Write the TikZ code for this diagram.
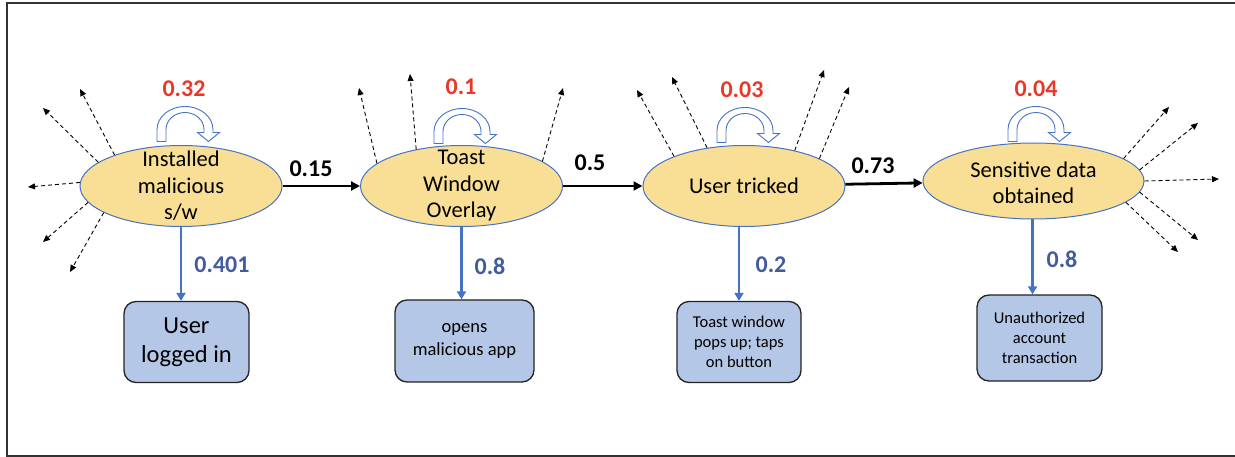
\documentclass[tikz,border=0pt]{standalone}
\usepackage{fontspec}
\setmainfont{Carlito}
\usetikzlibrary{arrows.meta,shapes.geometric}
\definecolor{ellfill}{RGB}{249,223,150}
\definecolor{ellline}{RGB}{68,114,196}
\definecolor{boxfill}{RGB}{180,199,231}
\definecolor{boxline}{RGB}{35,35,35}
\definecolor{redlbl}{RGB}{232,57,40}
\definecolor{bluelbl}{RGB}{66,92,158}
\definecolor{framecol}{RGB}{50,50,50}
\begin{document}
\begin{tikzpicture}[x=1pt,y=-1pt,
  state/.style={ellipse, draw=ellline, line width=1pt, fill=ellfill, inner sep=0pt},
  statetext/.style={align=center, inner sep=0pt, font=\fontsize{22.5}{26.5}\selectfont},
  outbox/.style={draw=boxline, line width=1.3pt, fill=boxfill, rounded corners=12pt, align=center, inner sep=0pt},
  flow/.style={line width=2.8pt, -{Triangle[length=9pt,width=9pt]}},
  leak/.style={line width=0.9pt, dash pattern=on 4pt off 3pt, -{Triangle[length=7pt,width=6pt]}},
  outarr/.style={draw=ellline, line width=2.5pt, -{Triangle[length=8pt,width=9pt]}},
  rednum/.style={text=redlbl, font=\fontsize{24}{28}\selectfont\bfseries, inner sep=0pt},
  bluenum/.style={text=bluelbl, font=\fontsize{24}{28}\selectfont\bfseries, inner sep=0pt},
  blacknum/.style={text=black, font=\fontsize{24}{28}\selectfont\bfseries, inner sep=0pt},
  selfloop/.pic={
    \draw[draw=ellline, fill=white, line width=0.9pt, line join=miter]
      (-26,0) -- (-26,-12) arc[start angle=180, end angle=0, x radius=28pt, y radius=23pt]
      -- (30,-9) -- (36.5,-9) -- (25.5,0) -- (14.5,-9) -- (21,-9) -- (21,-12)
      arc[start angle=0, end angle=180, x radius=19pt, y radius=17pt]
      -- (-17,0) -- cycle;
  }]
\useasboundingbox (0,0) rectangle (1235,457);
% frame
\draw[framecol, line width=1.5pt] (1235,3) -- (7,3) -- (7,456) -- (1235,456);

% states
\node[state, minimum width=202pt, minimum height=81pt] (e1) at (181,186) {};
\node[statetext] (e1t) at (e1.center) {Installed\\malicious\\s/w};
\node[state, minimum width=202pt, minimum height=81pt] (e2) at (461.5,186) {};
\node[statetext] (e2t) at (e2.center) {Toast\\Window\\Overlay};
\node[state, minimum width=202pt, minimum height=81pt] (e3) at (744,186) {};
\node[statetext] (e3t) at (e3.center) {User tricked};
\node[state, minimum width=221pt, minimum height=76pt] (e4) at (1033.5,181) {};
\node[statetext] (e4t) at ([yshift=-2pt]e4.center) {Sensitive data\\obtained};

% outcome boxes
\node[outbox, minimum width=125pt, minimum height=81pt, font=\fontsize{24.5}{29}\selectfont] (b1) at (186.5,342) {User\\logged in};
\node[outbox, minimum width=139pt, minimum height=82pt, font=\fontsize{18.5}{23}\selectfont] (b2) at (464.5,341) {opens\\malicious app};
\node[outbox, minimum width=124pt, minimum height=81pt, font=\fontsize{16.5}{20}\selectfont] (b3) at (739,342) {Toast window\\pops up; taps\\on button};
\node[outbox, minimum width=125pt, minimum height=86pt, font=\fontsize{16.5}{20}\selectfont] (b4) at (1039.5,338) {Unauthorized\\account\\transaction};

% self loops
\pic at ([shift={(2,-3.5)}]e1.north) {selfloop};
\pic at ([shift={(-1.5,-1.5)}]e2.north) {selfloop};
\pic at ([shift={(-1,-2.5)}]e3.north) {selfloop};
\pic at ([shift={(0.5,-1)}]e4.north) {selfloop};

% loop probabilities
\node[rednum] (r1) at (184,89) {0.32};
\node[rednum] (r2) at (461,87) {0.1};
\node[rednum] (r3) at (742,90) {0.03};
\node[rednum] (r4) at (1036,89) {0.04};

% main flow
\draw[flow] (e1) -- (e2);
\draw[flow] (e2) -- (e3);
\draw[flow] (e3) -- (e4);
\node[blacknum] (k1) at (311,169) {0.15};
\node[blacknum] (k2) at (590,163) {0.5};
\node[blacknum] (k3) at (873,166) {0.73};

% outcome arrows
\draw[outarr] (e1.south) -- (e1.south |- b1.north);
\draw[outarr] (e2.south) -- (e2.south |- b2.north);
\draw[outarr] ([xshift=-5pt]e3.south) -- ([xshift=-5pt]e3.south |- b3.north);
\draw[outarr] ([xshift=-1pt]e4.south) -- ([xshift=-1pt]e4.south |- b4.north);
\node[bluenum] (u1) at (222,265) {0.401};
\node[bluenum] (u2) at (490,266) {0.8};
\node[bluenum] (u3) at (771,265) {0.2};
\node[bluenum] (u4) at (1062,259) {0.8};

% leak arrows
\foreach \n/\a/\x/\y [count=\i] in {
  e1/155.5/80/89, e1/164.7/43/108, e1/178/28/187, e1/190.4/43/242, e1/199/70/272,
  e2/165/359/88, e2/141.6/410/74, e2/17.8/563/88,
  e3/157.8/637/90, e3/134.3/672/77, e3/35.2/824/70, e3/20.9/849/87,
  e4/14.8/1169/107, e4/6.9/1198/123, e4/-0.5/1219/179, e4/-6.5/1198/240, e4/-13.7/1178/252}{
  \coordinate (tip\i) at (\x,\y);
  \draw[leak] (\n.\a) -- (tip\i);
}
\end{tikzpicture}
\end{document}
